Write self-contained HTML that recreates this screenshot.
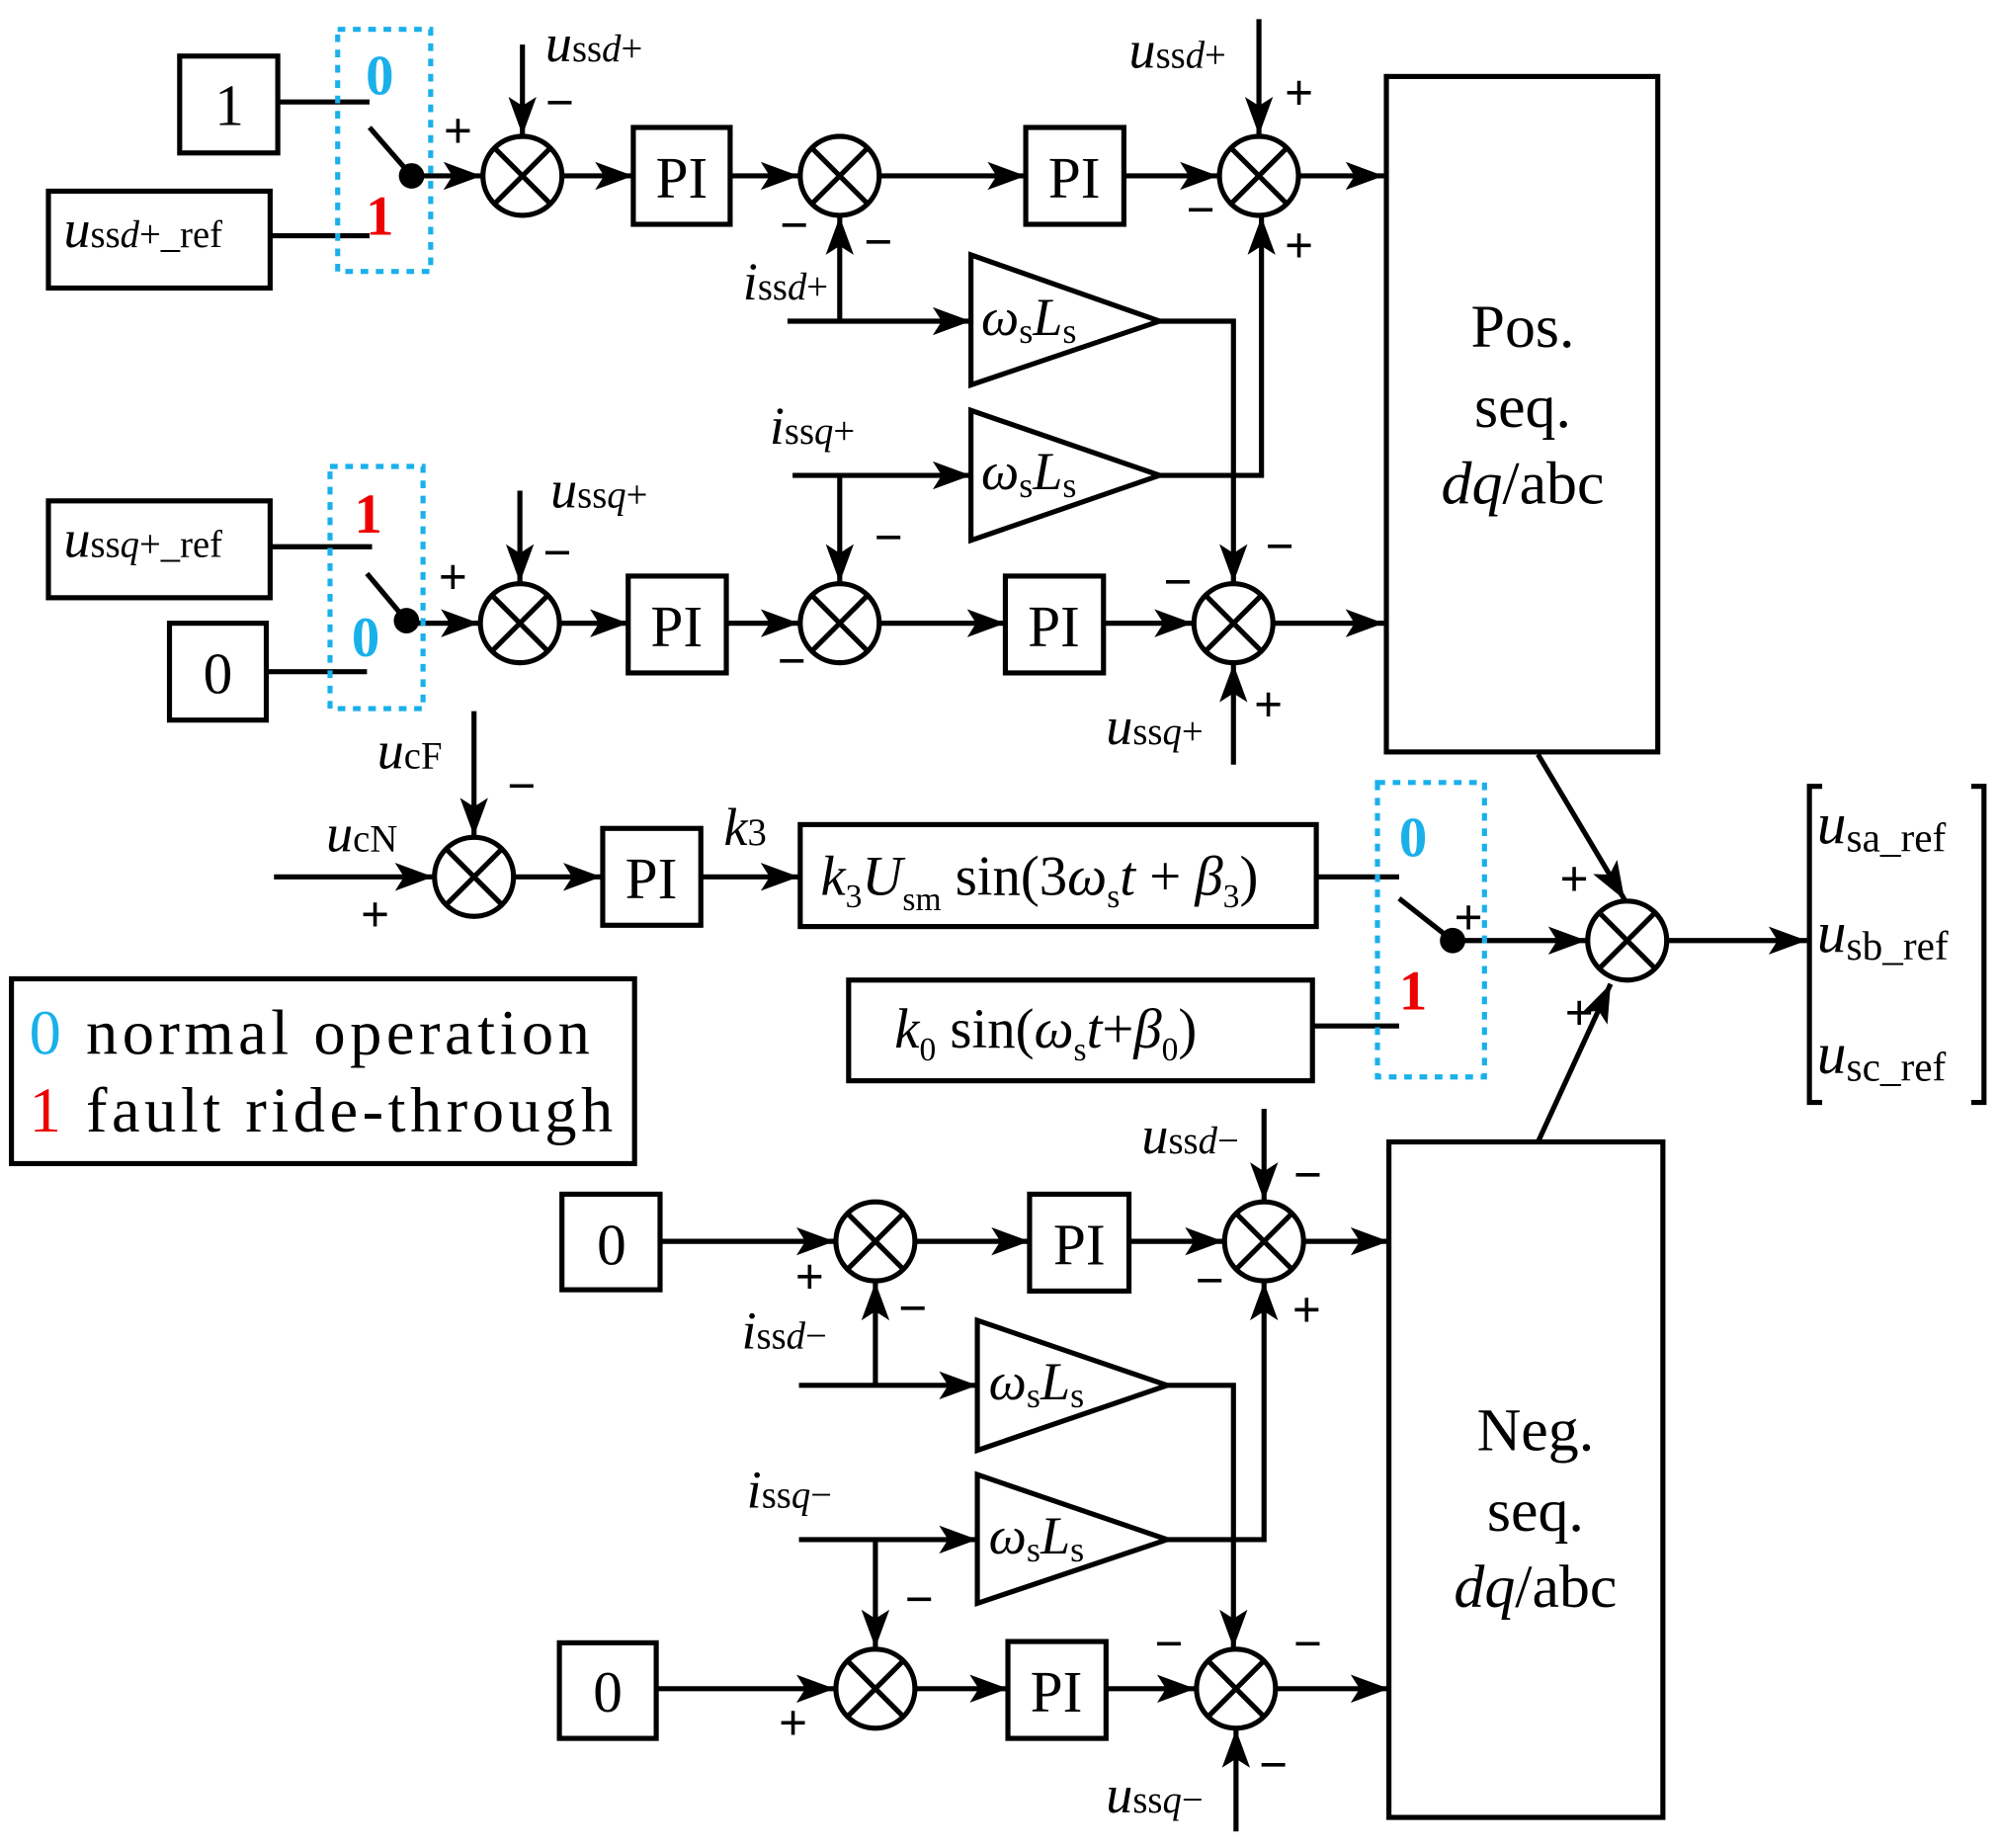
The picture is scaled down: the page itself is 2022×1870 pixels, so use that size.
<!DOCTYPE html>
<html><head><meta charset="utf-8"><style>
html,body{margin:0;padding:0;background:#fff}
svg{display:block}
text{font-family:"Liberation Serif",serif}
.i{font-style:italic}
</style></head><body>
<svg width="2022" height="1870" viewBox="0 0 1568 1450" preserveAspectRatio="none" xmlns="http://www.w3.org/2000/svg">
<defs>
<marker id="a" viewBox="0 0 30 22" refX="30" refY="11" markerWidth="30" markerHeight="22" markerUnits="userSpaceOnUse" orient="auto"><path d="M0,0L30,11L0,22L7,11z" fill="#000"/></marker>
<g id="s"><circle r="31" fill="#fff" stroke="#000" stroke-width="4"/><path d="M-21,-21L21,21M21,-21L-21,21" stroke="#000" stroke-width="4"/></g>
</defs>
<g stroke="#000" stroke-width="4" fill="none">
<rect x="141" y="44" width="77" height="76"/>
<rect x="38" y="150" width="174" height="76"/>
<rect x="497" y="100" width="76" height="76"/>
<rect x="805" y="100" width="77" height="76"/>
<rect x="38" y="393" width="174" height="76"/>
<rect x="133" y="489" width="76" height="76"/>
<rect x="493" y="452" width="77" height="76"/>
<rect x="789" y="452" width="77" height="76"/>
<rect x="1088" y="60" width="213" height="530"/>
<rect x="473" y="650" width="77" height="76"/>
<rect x="628" y="647" width="405" height="80"/>
<rect x="666" y="769" width="364" height="79"/>
<rect x="9" y="768" width="489" height="145"/>
<rect x="441" y="937" width="77" height="75"/>
<rect x="808" y="937" width="78" height="76"/>
<rect x="1090" y="896" width="215" height="530"/>
<rect x="439" y="1289" width="76" height="75"/>
<rect x="791" y="1288" width="77" height="76"/>
<path d="M762,200V302L910,252Z"/>
<path d="M762,322V424L910,373Z"/>
<path d="M767,1036V1138L916,1087Z"/>
<path d="M767,1157V1258L916,1208Z"/>
<path d="M1430,617H1420V865H1430M1547,617H1557V865H1547"/>
<path d="M218,80H290M212,185H290M290,100L323,138"/>
<path d="M212,429H292M209,527H288M288,450L319,487"/>
<path d="M1033,688H1098M1030,805H1098M1098,705L1140,738"/>
<path d="M910,252H968V457" marker-end="url(#a)"/>
<path d="M910,373H990V170" marker-end="url(#a)"/>
<path d="M916,1087H968V1293" marker-end="url(#a)"/>
<path d="M916,1208H992V1006" marker-end="url(#a)"/>
<path d="M323,138H378" marker-end="url(#a)"/>
<path d="M410,35V106" marker-end="url(#a)"/>
<path d="M442,138H497" marker-end="url(#a)"/>
<path d="M573,138H627" marker-end="url(#a)"/>
<path d="M691,138H805" marker-end="url(#a)"/>
<path d="M882,138H956" marker-end="url(#a)"/>
<path d="M988,15V106" marker-end="url(#a)"/>
<path d="M1020,138H1086" marker-end="url(#a)"/>
<path d="M659,252V170" marker-end="url(#a)"/>
<path d="M618,252H762" marker-end="url(#a)"/>
<path d="M622,373H762" marker-end="url(#a)"/>
<path d="M659,373V457" marker-end="url(#a)"/>
<path d="M319,489H376" marker-end="url(#a)"/>
<path d="M408,385V457" marker-end="url(#a)"/>
<path d="M440,489H493" marker-end="url(#a)"/>
<path d="M570,489H627" marker-end="url(#a)"/>
<path d="M691,489H789" marker-end="url(#a)"/>
<path d="M866,489H936" marker-end="url(#a)"/>
<path d="M968,600V521" marker-end="url(#a)"/>
<path d="M1000,489H1086" marker-end="url(#a)"/>
<path d="M372,558V656" marker-end="url(#a)"/>
<path d="M215,688H340" marker-end="url(#a)"/>
<path d="M404,688H472" marker-end="url(#a)"/>
<path d="M550,688H627" marker-end="url(#a)"/>
<path d="M1140,738H1245" marker-end="url(#a)"/>
<path d="M1207,592L1275,706" marker-end="url(#a)"/>
<path d="M1207,896L1264,772" marker-end="url(#a)"/>
<path d="M1309,738H1418" marker-end="url(#a)"/>
<path d="M518,974H655" marker-end="url(#a)"/>
<path d="M719,974H808" marker-end="url(#a)"/>
<path d="M886,974H960" marker-end="url(#a)"/>
<path d="M992,870V942" marker-end="url(#a)"/>
<path d="M1024,974H1090" marker-end="url(#a)"/>
<path d="M687,1087V1006" marker-end="url(#a)"/>
<path d="M627,1087H767" marker-end="url(#a)"/>
<path d="M627,1208H767" marker-end="url(#a)"/>
<path d="M687,1208V1293" marker-end="url(#a)"/>
<path d="M515,1325H655" marker-end="url(#a)"/>
<path d="M719,1325H791" marker-end="url(#a)"/>
<path d="M868,1325H938" marker-end="url(#a)"/>
<path d="M970,1437V1357" marker-end="url(#a)"/>
<path d="M1002,1325H1090" marker-end="url(#a)"/>
</g>
<g stroke="#1ab0ea" stroke-width="4" fill="none" stroke-dasharray="6,6">
<rect x="265" y="23" width="73" height="190"/>
<rect x="259" y="366" width="73" height="190"/>
<rect x="1081" y="614" width="84" height="231"/>
</g>
<circle cx="323" cy="138" r="10"/><circle cx="319" cy="487" r="10"/><circle cx="1140" cy="738" r="10"/>
<use href="#s" x="410" y="138"/><use href="#s" x="659" y="138"/><use href="#s" x="988" y="138"/>
<use href="#s" x="408" y="489"/><use href="#s" x="659" y="489"/><use href="#s" x="968" y="489"/>
<use href="#s" x="372" y="688"/><use href="#s" x="1277" y="738"/>
<use href="#s" x="687" y="974"/><use href="#s" x="992" y="974"/>
<use href="#s" x="687" y="1325"/><use href="#s" x="970" y="1325"/>
<g font-size="46">
<text x="180" y="98" text-anchor="middle">1</text>
<text x="171" y="544" text-anchor="middle">0</text>
<text x="480" y="992" text-anchor="middle">0</text>
<text x="477" y="1343" text-anchor="middle">0</text>
<text x="535" y="155" text-anchor="middle">PI</text>
<text x="843" y="155" text-anchor="middle">PI</text>
<text x="531" y="507" text-anchor="middle">PI</text>
<text x="827" y="507" text-anchor="middle">PI</text>
<text x="511" y="705" text-anchor="middle">PI</text>
<text x="847" y="992" text-anchor="middle">PI</text>
<text x="829" y="1343" text-anchor="middle">PI</text>
</g>
<g font-size="48" text-anchor="middle">
<text x="1195" y="272">Pos.</text>
<text x="1195" y="335">seq.</text>
<text x="1195" y="395"><tspan class="i">dq</tspan>/abc</text>
<text x="1205" y="1138">Neg.</text>
<text x="1205" y="1201">seq.</text>
<text x="1205" y="1261"><tspan class="i">dq</tspan>/abc</text>
</g>
<g font-size="50" letter-spacing="3.5">
<text x="23" y="827"><tspan style="fill:#1ab0ea">0</tspan> normal operation</text>
<text x="23" y="888"><tspan style="fill:#e00">1</tspan> fault ride-through</text>
</g>
<g font-size="44" font-weight="bold">
<text x="287" y="74" style="fill:#1ab0ea">0</text><text x="287" y="184" style="fill:#e00">1</text>
<text x="278" y="418" style="fill:#e00">1</text><text x="276" y="515" style="fill:#1ab0ea">0</text>
<text x="1098" y="672" style="fill:#1ab0ea">0</text><text x="1098" y="792" style="fill:#e00">1</text>
</g>
<g font-size="40" font-weight="bold">
<text x="348" y="116">+</text><text x="428" y="94">−</text>
<text x="1008" y="86">+</text><text x="931" y="178">−</text><text x="1008" y="206">+</text>
<text x="612" y="190">−</text><text x="678" y="203">−</text>
<text x="344" y="466">+</text><text x="426" y="447">−</text>
<text x="686" y="435">−</text><text x="610" y="532">−</text>
<text x="913" y="470">−</text><text x="993" y="442">−</text><text x="984" y="566">+</text>
<text x="398" y="630">−</text><text x="283" y="731">+</text>
<text x="1141" y="733">+</text><text x="1224" y="703">+</text><text x="1228" y="808">+</text>
<text x="624" y="1015">+</text><text x="1015" y="935">−</text><text x="938" y="1018">−</text><text x="1014" y="1041">+</text>
<text x="705" y="1040">−</text><text x="710" y="1268">−</text>
<text x="611" y="1365">+</text><text x="906" y="1303">−</text><text x="1015" y="1303">−</text><text x="988" y="1398">−</text>
</g>
<g font-size="42">
<text x="428" y="48"><tspan class="i">u</tspan><tspan font-size="30">ss<tspan class="i">d</tspan>+</tspan></text>
<text x="886" y="53"><tspan class="i">u</tspan><tspan font-size="30">ss<tspan class="i">d</tspan>+</tspan></text>
<text x="50" y="194"><tspan class="i">u</tspan><tspan font-size="30">ss<tspan class="i">d</tspan>+_ref</tspan></text>
<text x="50" y="437"><tspan class="i">u</tspan><tspan font-size="30">ss<tspan class="i">q</tspan>+_ref</tspan></text>
<text x="432" y="398"><tspan class="i">u</tspan><tspan font-size="30">ss<tspan class="i">q</tspan>+</tspan></text>
<text x="868" y="584"><tspan class="i">u</tspan><tspan font-size="30">ss<tspan class="i">q</tspan>+</tspan></text>
<text x="583" y="235"><tspan class="i">i</tspan><tspan font-size="30">ss<tspan class="i">d</tspan>+</tspan></text>
<text x="604" y="348"><tspan class="i">i</tspan><tspan font-size="30">ss<tspan class="i">q</tspan>+</tspan></text>
<text x="296" y="603"><tspan class="i">u</tspan><tspan font-size="30">cF</tspan></text>
<text x="256" y="668"><tspan class="i">u</tspan><tspan font-size="30">cN</tspan></text>
<text x="568" y="663"><tspan class="i">k</tspan><tspan font-size="30">3</tspan></text>
<text x="896" y="905"><tspan class="i">u</tspan><tspan font-size="30">ss<tspan class="i">d</tspan>−</tspan></text>
<text x="868" y="1422"><tspan class="i">u</tspan><tspan font-size="30">ss<tspan class="i">q</tspan>−</tspan></text>
<text x="582" y="1058"><tspan class="i">i</tspan><tspan font-size="30">ss<tspan class="i">d</tspan>−</tspan></text>
<text x="586" y="1183"><tspan class="i">i</tspan><tspan font-size="30">ss<tspan class="i">q</tspan>−</tspan></text>
<text x="770" y="263"><tspan class="i">ω</tspan><tspan font-size="28" dy="6">s</tspan><tspan class="i" dy="-6">L</tspan><tspan font-size="28" dy="6">s</tspan></text>
<text x="770" y="384"><tspan class="i">ω</tspan><tspan font-size="28" dy="6">s</tspan><tspan class="i" dy="-6">L</tspan><tspan font-size="28" dy="6">s</tspan></text>
<text x="776" y="1098"><tspan class="i">ω</tspan><tspan font-size="28" dy="6">s</tspan><tspan class="i" dy="-6">L</tspan><tspan font-size="28" dy="6">s</tspan></text>
<text x="776" y="1219"><tspan class="i">ω</tspan><tspan font-size="28" dy="6">s</tspan><tspan class="i" dy="-6">L</tspan><tspan font-size="28" dy="6">s</tspan></text>
<text x="644" y="702" font-size="44"><tspan class="i">k</tspan><tspan font-size="26" dy="10">3</tspan><tspan class="i" dy="-10">U</tspan><tspan font-size="26" dy="12">sm</tspan><tspan dy="-12"> sin(3</tspan><tspan class="i">ω</tspan><tspan font-size="26" dy="10">s</tspan><tspan class="i" dy="-10">t</tspan> + <tspan class="i">β</tspan><tspan font-size="26" dy="10">3</tspan><tspan dy="-10">)</tspan></text>
<text x="702" y="822" font-size="44"><tspan class="i">k</tspan><tspan font-size="26" dy="10">0</tspan><tspan dy="-10"> sin(</tspan><tspan class="i">ω</tspan><tspan font-size="26" dy="10">s</tspan><tspan class="i" dy="-10">t</tspan>+<tspan class="i">β</tspan><tspan font-size="26" dy="10">0</tspan><tspan dy="-10">)</tspan></text>
<text x="1426" y="662" font-size="46"><tspan class="i">u</tspan><tspan font-size="32" dy="6">sa_ref</tspan></text>
<text x="1426" y="747" font-size="46"><tspan class="i">u</tspan><tspan font-size="32" dy="6">sb_ref</tspan></text>
<text x="1426" y="842" font-size="46"><tspan class="i">u</tspan><tspan font-size="32" dy="6">sc_ref</tspan></text>
</g>
</svg>
</body></html>
